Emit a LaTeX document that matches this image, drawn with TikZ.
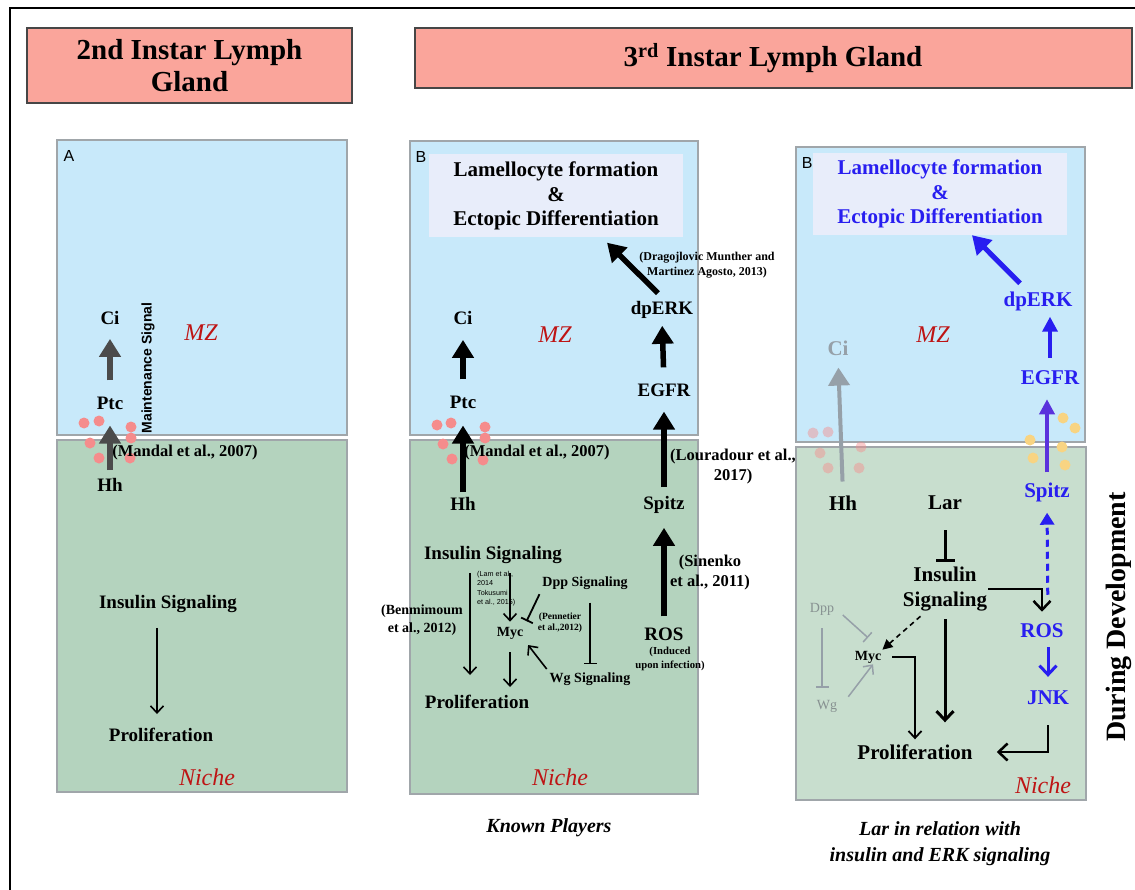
\documentclass[tikz,border=0pt]{standalone}
\usepackage{fontspec}
\setmainfont{Liberation Serif}
\setsansfont{Liberation Sans}
\usepackage{tikz}
\usetikzlibrary{arrows.meta, positioning, calc}
\definecolor{hdrpink}{RGB}{250,165,155}
\definecolor{hdredge}{RGB}{70,70,70}
\definecolor{mzblue}{RGB}{200,233,250}
\definecolor{nichegreen}{RGB}{180,211,190}
\definecolor{nichelight}{RGB}{200,222,206}
\definecolor{boxgray}{RGB}{160,166,170}
\definecolor{goalfill}{RGB}{232,237,250}
\definecolor{zonered}{RGB}{190,20,20}
\definecolor{sigblue}{RGB}{40,30,240}
\definecolor{spitzpurple}{RGB}{90,50,220}
\definecolor{dotpink}{RGB}{245,140,140}
\definecolor{dotyellow}{RGB}{248,212,130}
\definecolor{darkarrow}{RGB}{75,75,75}
\definecolor{fadegray}{RGB}{150,160,168}
\definecolor{txtgray}{RGB}{135,145,145}

\begin{document}
\begin{tikzpicture}[x=1pt, y=-1pt,
  lbl/.style={font=\fontsize{19}{22}\selectfont\bfseries, inner sep=1pt},
  lblbig/.style={font=\fontsize{21}{25}\selectfont\bfseries, inner sep=1pt, align=center},
  smalllbl/.style={font=\fontsize{14}{16}\selectfont\bfseries, inner sep=1pt},
  cite/.style={font=\fontsize{16.5}{20}\selectfont\bfseries, inner sep=1pt, align=center},
  zone/.style={text=zonered, font=\fontsize{24}{28}\selectfont\itshape, inner sep=1pt},
  panellbl/.style={font=\fontsize{16}{18}\selectfont\sffamily, inner sep=0pt},
  caption/.style={font=\fontsize{20}{26}\selectfont\bfseries\itshape, align=center},
  hdr/.style={draw=hdredge, line width=1.2pt, fill=hdrpink},
  hdrtext/.style={font=\fontsize{29}{32}\selectfont\bfseries, align=center},
  mzbox/.style={draw=boxgray, line width=1.2pt, fill=mzblue},
  nichebox/.style={draw=boxgray, line width=1.2pt, fill=nichegreen},
  goal/.style={fill=goalfill, minimum width=254pt, minimum height=83pt, align=center,
    font=\fontsize{21}{24.5}\selectfont\bfseries},
  bigarrow/.style={line width=5.5pt, -{Triangle[length=18pt,width=21pt]}},
  midarrow/.style={line width=3.5pt, -{Triangle[length=15pt,width=15pt]}},
  thinarrow/.style={line width=1.6pt, -{Straight Barb[length=7pt,width=13pt]}},
  barbarrow/.style={line width=3pt, -{Straight Barb[length=9pt,width=17pt]}},
  inhib/.style={line width=1.8pt, -{Bar[width=13pt]}}
]
\useasboundingbox (0,0) rectangle (1135,890);
\draw[line width=1.5pt] (1135,8) -- (10,8) -- (10,890);

% headers
\draw[hdr] (27,28) rectangle (352,103);
\node[hdrtext] (hdrA) at (189.5,66) {2nd Instar Lymph\\Gland};
\draw[hdr] (415,28) rectangle (1132,88);
\node[hdrtext] (hdrB) at (773,58) {3\textsuperscript{rd} Instar Lymph Gland};

% panel A
\draw[mzbox] (57,140) rectangle (347,435);
\draw[nichebox] (57,440) rectangle (347,792);
\foreach \p in {(84,423),(99,421),(131,427),(131,438),(90,443),(99,458),(130,458)}
  \fill[dotpink] \p circle[radius=5.5];
\node[panellbl] (labA) at (69,156) {A};
\node[lbl] (ciA) at (110,318) {Ci};
\node[lbl] (ptcA) at (110,403) {Ptc};
\node[lbl] (hhA) at (110,485) {Hh};
\node[rotate=90, font=\fontsize{14}{16}\selectfont\sffamily\bfseries] (maintA) at (148,368) {Maintenance Signal};
\node[zone] (mzA) at (201,333) {MZ};
\node[cite] (mandalA) at (185,453) {(Mandal et al., 2007)};
\node[lbl] (insA) at (168,604) {Insulin Signaling};
\node[lbl] (prolA) at (161,735) {Proliferation};
\node[zone] (nicheA) at (207,777) {Niche};
\draw[bigarrow, draw=darkarrow, shorten <=15pt, shorten >=13pt] (ptcA.north) -- (ciA.south);
\draw[bigarrow, draw=darkarrow, shorten <=7pt, shorten >=15pt] (hhA.north) -- (ptcA.south);
\draw[thinarrow, shorten <=14pt, shorten >=13pt] ([xshift=-11pt]insA.south) -- ([xshift=-11pt]insA.south |- prolA.north);

% panel B
\draw[mzbox] (410,141) rectangle (698,435);
\draw[nichebox] (410,440) rectangle (698,794);
\foreach \p in {(437,425),(451,423),(485,427),(485,438),(443,444),(452,459),(483,460)}
  \fill[dotpink] \p circle[radius=5.5];
\node[panellbl] (labB) at (421,157) {B};
\node[goal] (goalB) at (556,196) {Lamellocyte formation\\\&\\Ectopic Differentiation};
\node[lbl] (ciB) at (463,318) {Ci};
\node[lbl] (ptcB) at (463,402) {Ptc};
\node[lbl] (hhB) at (463,504) {Hh};
\node[zone] (mzB) at (555,335) {MZ};
\node[cite] (mandalB) at (537,453) {(Mandal et al., 2007)};
\node[lbl] (dpB) at (662,310) {dpERK};
\node[font=\fontsize{12}{15}\selectfont\bfseries, align=center, inner sep=1pt] (dragoB) at (707,265) {(Dragojlovic Munther and\\Martinez Agosto, 2013)};
\node[lbl] (egfrB) at (664,390) {EGFR};
\node[lbl] (spitzB) at (664,505) {Spitz};
\node[cite] (louraB) at (733,467) {(Louradour et al.,\\2017)};
\node[cite] (sinenkoB) at (710,573) {(Sinenko\\et al., 2011)};
\node[lbl] (rosB) at (664,634) {ROS};
\node[font=\fontsize{10.7}{14}\selectfont\bfseries, align=center, inner sep=1pt] (inducB) at (670,659) {(Induced\\upon infection)};
\node[lbl] (insB) at (493,555) {Insulin Signaling};
\node[font=\fontsize{14}{18}\selectfont\bfseries, align=center, inner sep=1pt] (benmiB) at (422,620) {(Benmimoum\\et al., 2012)};
\node[font=\fontsize{7.2}{9.5}\selectfont\sffamily, align=left, anchor=north west, inner sep=0pt] (lamB) at (477,571) {(Lam et al.,\\2014\\Tokusumi\\et al., 2015)};
\node[smalllbl] (mycB) at (510,633) {Myc};
\node[smalllbl] (dppB) at (585,583) {Dpp Signaling};
\node[font=\fontsize{9.5}{11}\selectfont\bfseries, align=center, inner sep=1pt] (pennB) at (560,623) {(Pennetier\\et al.,2012)};
\node[smalllbl] (wgB) at (590,679) {Wg Signaling};
\node[lbl] (prolB) at (477,702) {Proliferation};
\node[zone] (nicheB) at (560,777) {Niche};
\node[caption] (capB) at (549,828) {Known Players};
\draw[bigarrow, shorten <=15pt, shorten >=14pt] (ptcB.north) -- (ciB.south);
\draw[bigarrow, shorten <=4pt, shorten >=16pt] (hhB.north) -- (ptcB.south);
\draw[bigarrow] ([xshift=-4pt,yshift=7pt]dpB.north) -- ([xshift=51pt,yshift=-5pt]goalB.south);
\draw[bigarrow, shorten <=15pt, shorten >=6pt] (egfrB.north) -- (dpB.south);
\draw[bigarrow, shorten <=8pt, shorten >=14pt] (spitzB.north) -- (egfrB.south);
\draw[bigarrow, shorten <=10pt, shorten >=13pt] (rosB.north) -- (spitzB.south);
\draw[thinarrow, shorten <=8pt, shorten >=19pt] ([xshift=-23pt]insB.south) -- ([xshift=-23pt]insB.south |- prolB.north);
\draw[thinarrow, shorten <=8pt, shorten >=4pt] (mycB.north |- insB.south) -- (mycB.north);
\draw[inhib, shorten <=4pt, shorten >=5pt] (dppB.south west) -- (mycB.north east);
\draw[inhib, shorten <=12pt, shorten >=7pt] (wgB.north |- dppB.south) -- (wgB.north);
\draw[thinarrow, shorten <=3pt, shorten >=6pt] (wgB.north west) -- (mycB.south east);
\draw[thinarrow, shorten <=12pt, shorten >=7pt] (mycB.south) -- (mycB.south |- prolB.north);

% panel B'
\draw[mzbox] (796,147) rectangle (1085,442);
\draw[nichebox, fill=nichelight] (796,447) rectangle (1086,800);
\foreach \p in {(813,433),(828,432),(820,453),(861,447),(828,468),(859,468)}
  \fill[dotpink, opacity=0.45] \p circle[radius=5.5];
\foreach \p in {(1063,418),(1075,428),(1030,440),(1062,447),(1033,458),(1065,465)}
  \fill[dotyellow] \p circle[radius=5.5];
\node[panellbl] (labBp) at (809,163) {B'};
\node[goal, text=sigblue, minimum height=82pt] (goalBp) at (940,194) {Lamellocyte formation\\\&\\Ectopic Differentiation};
\node[lblbig, text=fadegray] (ciBp) at (838,348) {Ci};
\node[zone] (mzBp) at (933,335) {MZ};
\node[lblbig, text=sigblue] (dpBp) at (1038,301) {dpERK};
\node[lblbig, text=sigblue] (egfrBp) at (1050,378) {EGFR};
\node[lblbig, text=sigblue] (spitzBp) at (1047,492) {Spitz};
\node[lblbig] (hhBp) at (843,503) {Hh};
\node[lblbig] (larBp) at (945,503) {Lar};
\node[lblbig] (insBp) at (945,589) {Insulin\\Signaling};
\node[lblbig, text=sigblue] (rosBp) at (1042,631) {ROS};
\node[lblbig, text=sigblue] (jnkBp) at (1048,698) {JNK};
\node[font=\fontsize{14}{16}\selectfont, text=txtgray, inner sep=1pt] (dppBp) at (822,609) {Dpp};
\node[font=\fontsize{14}{16}\selectfont, text=txtgray, inner sep=1pt] (wgBp) at (827,706) {Wg};
\node[smalllbl] (mycBp) at (868,657) {Myc};
\node[lblbig] (prolBp) at (915,752) {Proliferation};
\node[zone] (nicheBp) at (1043,785) {Niche};
\node[caption] (capBp) at (940,844) {Lar in relation with\\insulin and ERK signaling};
\node[rotate=90, font=\fontsize{28}{30}\selectfont\bfseries] (devel) at (1119,617) {During Development};
\draw[bigarrow, draw=fadegray, line width=4pt, shorten <=13pt, shorten >=11pt] (hhBp.north) -- (ciBp.south);
\draw[bigarrow, draw=sigblue, line width=5pt] ([xshift=-18pt,yshift=7pt]dpBp.north) -- ([xshift=32pt]goalBp.south);
\draw[midarrow, draw=sigblue, shorten <=12pt, shorten >=5pt] (egfrBp.north) -- (egfrBp.north |- dpBp.south);
\draw[midarrow, draw=spitzpurple, shorten <=9pt, shorten >=13pt] (spitzBp.north) -- (spitzBp.north |- egfrBp.south);
\draw[line width=3pt, -{Bar[width=19pt]}, shorten <=19pt, shorten >=4pt] (larBp.south) -- (insBp.north);
\draw[barbarrow, line width=2.5pt, shorten >=11pt] (insBp.east) -| (rosBp.north);
\draw[sigblue, line width=3pt, dash pattern=on 7pt off 5pt, -{Triangle[length=12pt,width=14pt]}, shorten <=28pt, shorten >=10pt] ([xshift=6pt]rosBp.north) -- (spitzBp.south);
\draw[barbarrow, sigblue, shorten <=8pt, shorten >=13pt] ([xshift=6pt]rosBp.south) -- ([xshift=6pt]rosBp.south |- jnkBp.north);
\draw[barbarrow, line width=2.5pt, shorten <=19pt, shorten >=23pt] (jnkBp.south) |- (prolBp.east);
\draw[barbarrow, shorten <=7pt, shorten >=21pt] (insBp.south) -- (insBp.south |- prolBp.north);
\draw[line width=1.6pt, dash pattern=on 5pt off 4pt, -{Triangle[length=10pt,width=10pt]}, shorten <=6pt] ([xshift=-20pt]insBp.south) -- (mycBp.north east);
\draw[thinarrow, line width=1.8pt, shorten <=10pt, shorten >=4pt] (mycBp.east) -| (prolBp.north);
\draw[inhib, draw=fadegray, line width=1.5pt] ([xshift=7.5pt,yshift=-6pt]dppBp.east) -- ([yshift=12pt]mycBp.north);
\draw[inhib, draw=fadegray, line width=1.5pt, shorten <=12pt, shorten >=11pt] (dppBp.south) -- (dppBp.south |- wgBp.north);
\draw[thinarrow, draw=fadegray, line width=1.5pt] ([xshift=10pt,yshift=2pt]wgBp.north east) -- ([xshift=5pt]mycBp.south);
\end{tikzpicture}
\end{document}
